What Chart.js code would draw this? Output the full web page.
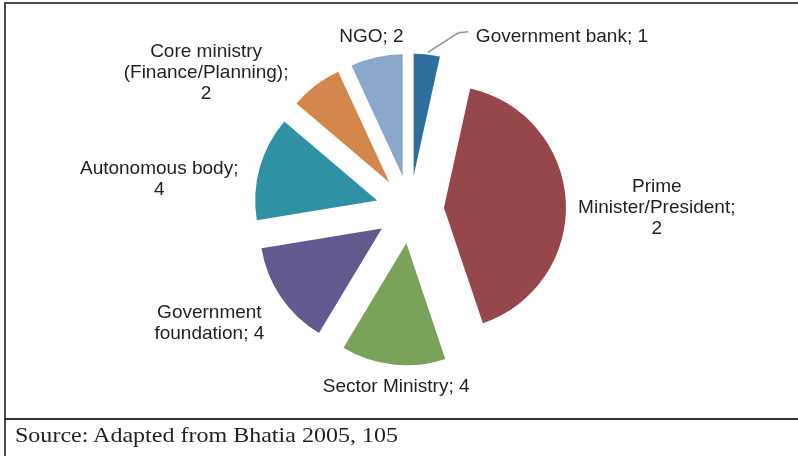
<!DOCTYPE html>
<html>
<head>
<meta charset="utf-8">
<script src="https://cdn.jsdelivr.net/npm/chart.js@4/dist/chart.umd.min.js"></script>
<style>
  html, body { margin: 0; padding: 0; background: #fff; }
  #wrap { position: relative; width: 798px; height: 456px; overflow: hidden; background: #fff; }
  #c { position: absolute; left: 0; top: 0; }
  .ln { position: absolute; background: #3a3a3a; }
  #source { position: absolute; left: 15px; top: 425px; font-family: "Liberation Serif", "Times New Roman", serif;
            font-size: 21px; color: #231f20; white-space: nowrap; transform-origin: left top; line-height: 1; }
</style>
</head>
<body>
<div id="wrap">
  <canvas id="c" width="798" height="456"></canvas>
  <div class="ln" style="left:4px; top:2px; width:794px; height:2px; background:#4a4a4a;"></div>
  <div class="ln" style="left:4px; top:2px; width:2px; height:454px; background:#4a4a4a;"></div>
  <div class="ln" style="left:4px; top:418px; width:794px; height:2px; background:#333;"></div>
  <div id="source">Source: Adapted from Bhatia 2005, 105</div>
</div>
<script>
// ---- data ----
const categories = ["Government bank", "Prime Minister/President", "Sector Ministry",
  "Government foundation", "Autonomous body", "Core ministry (Finance/Planning)", "NGO"];
const values = [1, 12, 4, 4, 4, 2, 2];
const valueLabels = ["1", "2", "4", "4", "4", "2", "2"]; // values as printed on the chart
const labelLines = [
  ["Government bank; " + valueLabels[0]],
  ["Prime", "Minister/President;", valueLabels[1]],
  ["Sector Ministry; " + valueLabels[2]],
  ["Government", "foundation; " + valueLabels[3]],
  ["Autonomous body;", valueLabels[4]],
  ["Core ministry", "(Finance/Planning);", valueLabels[5]],
  ["NGO; " + valueLabels[6]]
];
const colors = ["#2d6e9f", "#96474b", "#7aa25a", "#605a8e", "#2f92a4", "#d4874c", "#8ba7cb"];

// ---- layout / style ----
const EXPLODE = 34;
// label anchor (center x / first baseline) relative to slice's outer mid point
const labelOffsets = [
  {dx: 49, dy: -12, align: "left"},
  {dx: 91, dy: -9, align: "center"},
  {dx: 3, dy: 27, align: "center"},
  {dx: -71.5, dy: 21, align: "center"},
  {dx: -100.5, dy: 6, align: "center"},
  {dx: -109.5, dy: -28, align: "center"},
  {dx: -5, dy: -15, align: "center"}
];
const leader = {index: 0, pts: [[1, -2], [31.5, -21.7], [41.5, -22.7]]};
const LINE_H = 21;

const explodePlugin = {
  id: "explode",
  afterDatasetsUpdate(chart) {
    const meta = chart.getDatasetMeta(0);
    meta.data.forEach(a => {
      const mid = (a.startAngle + a.endAngle) / 2;
      a.x += Math.cos(mid) * EXPLODE;
      a.y += Math.sin(mid) * EXPLODE;
    });
  }
};

const labelPlugin = {
  id: "sliceLabels",
  afterDatasetsDraw(chart) {
    const ctx = chart.ctx;
    const meta = chart.getDatasetMeta(0);
    ctx.save();
    meta.data.forEach((a, i) => {
      const mid = (a.startAngle + a.endAngle) / 2;
      const px = a.x + Math.cos(mid) * a.outerRadius;
      const py = a.y + Math.sin(mid) * a.outerRadius;
      if (leader.index === i) {
        ctx.strokeStyle = "#8f999c";
        ctx.lineWidth = 1.6;
        ctx.beginPath();
        leader.pts.forEach((p, k) => {
          if (k === 0) ctx.moveTo(px + p[0], py + p[1]); else ctx.lineTo(px + p[0], py + p[1]);
        });
        ctx.stroke();
      }
      const o = labelOffsets[i];
      ctx.fillStyle = "#231f20";
      ctx.font = "19px 'Liberation Sans', Arial, sans-serif";
      ctx.textAlign = o.align;
      ctx.textBaseline = "alphabetic";
      labelLines[i].forEach((t, k) => {
        ctx.fillText(t, px + o.dx, py + o.dy + k * LINE_H);
      });
    });
    ctx.restore();
  }
};

new Chart(document.getElementById("c"), {
  type: "pie",
  data: {
    labels: categories,
    datasets: [{
      data: values,
      backgroundColor: colors,
      borderWidth: 0,
      hoverOffset: 0
    }]
  },
  options: {
    responsive: false,
    animation: false,
    events: [],
    radius: 122,
    rotation: 0,
    layout: { padding: { left: 22, right: 0, top: 0, bottom: 37 } },
    plugins: { legend: { display: false }, tooltip: { enabled: false } }
  },
  plugins: [explodePlugin, labelPlugin]
});

// stretch source line to match the reference width
const src = document.getElementById("source");
const w = src.getBoundingClientRect().width;
src.style.transform = "scaleX(" + (383 / w) + ")";
</script>
</body>
</html>
